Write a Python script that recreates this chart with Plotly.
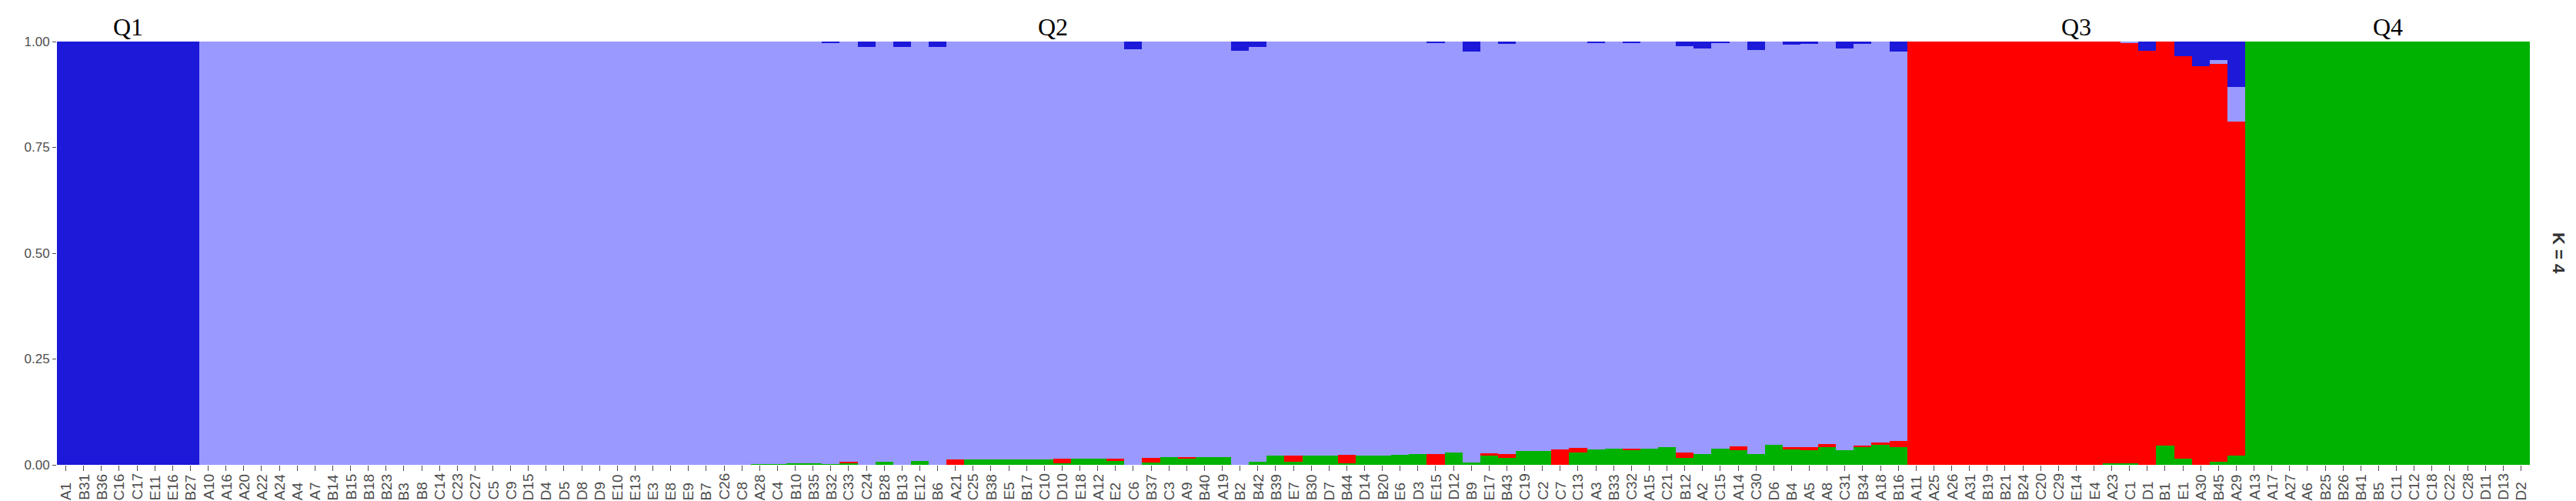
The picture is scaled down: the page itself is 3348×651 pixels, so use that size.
import plotly.graph_objects as go

# ---------------- data ----------------
samples = [
    # Q1
    "A1", "B31", "B36", "C16", "C17", "E11", "E16", "B27",
    # Q2
    "A10", "A16", "A20", "A22", "A24", "A4", "A7", "B14", "B15", "B18", "B23", "B3", "B8",
    "C14", "C23", "C27", "C5", "C9", "D15", "D4", "D5", "D8", "D9", "E10", "E13", "E3", "E8", "E9",
    "B7", "C26", "C8",
    "A28", "C4", "B10", "B35", "B32", "C33", "C24", "B28", "B13", "E12", "B6",
    "A21", "C25", "B38", "E5", "B17", "C10", "D10", "E18", "A12", "E2",
    "C6", "B37", "C3", "A9", "B40", "A19", "B2", "B42",
    "B39", "E7", "B30", "D7", "B44", "D14", "B20", "E6", "D3", "E15",
    "D12", "B9", "E17", "B43", "C19", "C2", "C7", "C13", "A3", "B33",
    "C32", "A15", "C21", "B12", "A2", "C15", "A14", "C30", "D6", "B4",
    "A5", "A8", "C31", "B34", "A18", "B16",
    # Q3
    "A11", "A25", "A26", "A31", "B19", "B21", "B24", "C20", "C29", "E14", "E4",
    "A23", "C1", "D1", "B1", "E1", "A30", "B45", "A29",
    # Q4
    "A13", "A17", "A27", "A6", "B25", "B26", "B41", "B5", "C11", "C12", "C18", "C22", "C28",
    "D11", "D13", "D2",
]

# membership coefficients (cluster shares)
green = (
    [0.0] * 8
    + [0.0] * 31
    + [0.001, 0.001, 0.003, 0.004, 0.001, 0.003, 0.0, 0.008, 0.0, 0.010, 0.0,
       0.0, 0.012, 0.012, 0.012, 0.013, 0.013, 0.003, 0.015, 0.015, 0.010,
       0.0, 0.006, 0.018, 0.016, 0.018, 0.018, 0.0, 0.008,
       0.021, 0.008, 0.021, 0.021, 0.004, 0.022, 0.022, 0.024, 0.026, 0.0,
       0.029, 0.006, 0.022, 0.016, 0.032, 0.032, 0.0, 0.029, 0.036, 0.039,
       0.036, 0.039, 0.041, 0.016, 0.026, 0.039, 0.035, 0.026, 0.047, 0.036,
       0.035, 0.041, 0.035, 0.041, 0.047, 0.041]
    + [0.0] * 11 + [0.003, 0.003, 0.0, 0.046, 0.014, 0.0, 0.007, 0.022]
    + [1.0] * 16
)

red = (
    [0.0] * 8
    + [0.0] * 31
    + [0.0, 0.0, 0.0, 0.0, 0.0, 0.004, 0.0, 0.0, 0.0, 0.0, 0.0,
       0.012, 0.0, 0.0, 0.0, 0.0, 0.0, 0.011, 0.0, 0.0, 0.005,
       0.0, 0.011, 0.0, 0.003, 0.0, 0.0, 0.0, 0.0,
       0.0, 0.013, 0.0, 0.0, 0.019, 0.0, 0.0, 0.0, 0.0, 0.025,
       0.0, 0.0, 0.006, 0.009, 0.0, 0.0, 0.036, 0.011, 0.0, 0.0,
       0.003, 0.0, 0.0, 0.013, 0.0, 0.0, 0.009, 0.0, 0.0, 0.006,
       0.007, 0.008, 0.0, 0.005, 0.005, 0.016]
    + [1.0] * 11 + [0.997, 0.994, 0.979, 0.954, 0.951, 0.942, 0.940, 0.789]
    + [0.0] * 16
)

light = (
    [0.0] * 8
    + [1.0] * 31
    + [0.999, 0.999, 0.997, 0.996, 0.996, 0.993, 0.988, 0.992, 0.987, 0.990, 0.987,
       0.988, 0.988, 0.988, 0.988, 0.987, 0.987, 0.986, 0.985, 0.985, 0.985,
       0.982, 0.983, 0.982, 0.981, 0.982, 0.982, 0.979, 0.979,
       0.979, 0.979, 0.979, 0.979, 0.977, 0.978, 0.978, 0.976, 0.974, 0.972,
       0.971, 0.971, 0.972, 0.969, 0.968, 0.968, 0.964, 0.960, 0.961, 0.961,
       0.958, 0.961, 0.959, 0.960, 0.957, 0.958, 0.956, 0.954, 0.953, 0.950,
       0.952, 0.951, 0.949, 0.948, 0.948, 0.919]
    + [0.0] * 11 + [0.0, 0.003, 0.0, 0.0, 0.0, 0.0, 0.009, 0.082]
    + [0.0] * 16
)

dark = (
    [1.0] * 8
    + [0.0] * 31
    + [0.0, 0.0, 0.0, 0.0, 0.003, 0.0, 0.012, 0.0, 0.013, 0.0, 0.013,
       0.0, 0.0, 0.0, 0.0, 0.0, 0.0, 0.0, 0.0, 0.0, 0.0,
       0.018, 0.0, 0.0, 0.0, 0.0, 0.0, 0.021, 0.013,
       0.0, 0.0, 0.0, 0.0, 0.0, 0.0, 0.0, 0.0, 0.0, 0.003,
       0.0, 0.023, 0.0, 0.006, 0.0, 0.0, 0.0, 0.0, 0.003, 0.0,
       0.003, 0.0, 0.0, 0.011, 0.017, 0.003, 0.0, 0.020, 0.0, 0.008,
       0.006, 0.0, 0.016, 0.006, 0.0, 0.024]
    + [0.0] * 11 + [0.0, 0.0, 0.021, 0.0, 0.035, 0.058, 0.044, 0.107]
    + [0.0] * 16
)

group_names = ["Q1", "Q2", "Q3", "Q4"]
group_first = ["A1", "A10", "A11", "A13"]
group_last = ["B27", "B16", "A29", "D2"]

y_ticks = [0.0, 0.25, 0.5, 0.75, 1.0]
y_ticktext = ["0.00", "0.25", "0.50", "0.75", "1.00"]
facet_label = "K = 4"

# ---------------- styling ----------------
COL_GREEN = "#00B200"
COL_RED = "#FF0000"
COL_LIGHT = "#9999FF"
COL_DARK = "#1C19D9"
TICK_GREY = "#4D4D4D"

W, H = 3348, 651
ML, MR, MT, MB = 66, 68, 46, 55
plot_h = H - MT - MB

fig = go.Figure()
for vals, col, name in [(green, COL_GREEN, "K4"), (red, COL_RED, "K3"),
                        (light, COL_LIGHT, "K2"), (dark, COL_DARK, "K1")]:
    fig.add_trace(go.Bar(
        x=samples, y=vals, name=name,
        marker=dict(color=col, line=dict(width=0)),
        width=1.0, showlegend=False, hoverinfo="x+y+name",
    ))

annotations = []
# group headers
for name, a, b in zip(group_names, group_first, group_last):
    ia, ib = samples.index(a), samples.index(b)
    annotations.append(dict(
        x=(ia + ib) / 2, xref="x", y=1 + 19 / plot_h, yref="paper",
        text=name, showarrow=False, xanchor="center", yanchor="middle",
        font=dict(family="Liberation Serif", size=32, color="#000000"),
    ))

# sample labels (bottom aligned, reading upward)
label_bottom = -(643 - (H - MB)) / plot_h
for s in samples:
    annotations.append(dict(
        x=s, xref="x", y=label_bottom, yref="paper",
        text=s, showarrow=False, textangle=-90,
        xanchor="center", yanchor="bottom", borderpad=0,
        font=dict(family="Liberation Sans", size=19, color=TICK_GREY),
    ))

# facet strip label
annotations.append(dict(
    x=1 + 38 / (W - ML - MR), xref="paper", y=0.5, yref="paper",
    text="<b>" + facet_label + "</b>", showarrow=False, textangle=90,
    xanchor="center", yanchor="middle",
    font=dict(family="Liberation Sans", size=22, color="#333333"),
))

fig.update_layout(
    template="none",
    width=W, height=H, autosize=False,
    margin=dict(l=ML, r=MR, t=MT, b=MB, pad=0, autoexpand=False),
    barmode="stack", bargap=0, bargroupgap=0,
    plot_bgcolor="white", paper_bgcolor="white",
    annotations=annotations,
    font=dict(family="Liberation Sans"),
)
fig.update_xaxes(
    type="category", categoryorder="array", categoryarray=samples,
    range=[-0.5, len(samples) - 0.5], automargin=False,
    showgrid=False, zeroline=False, showline=False,
    ticks="outside", ticklen=7, tickwidth=1, tickcolor=TICK_GREY,
    tickmode="array", tickvals=samples, showticklabels=False,
)
fig.update_yaxes(
    range=[0, 1], automargin=False, showgrid=False, zeroline=False, showline=False,
    tickmode="array", tickvals=y_ticks, ticktext=y_ticktext,
    ticks="outside", ticklen=5, tickwidth=1, tickcolor=TICK_GREY,
    tickfont=dict(family="Liberation Sans", size=17, color=TICK_GREY),
)

fig.write_html("out.html")
